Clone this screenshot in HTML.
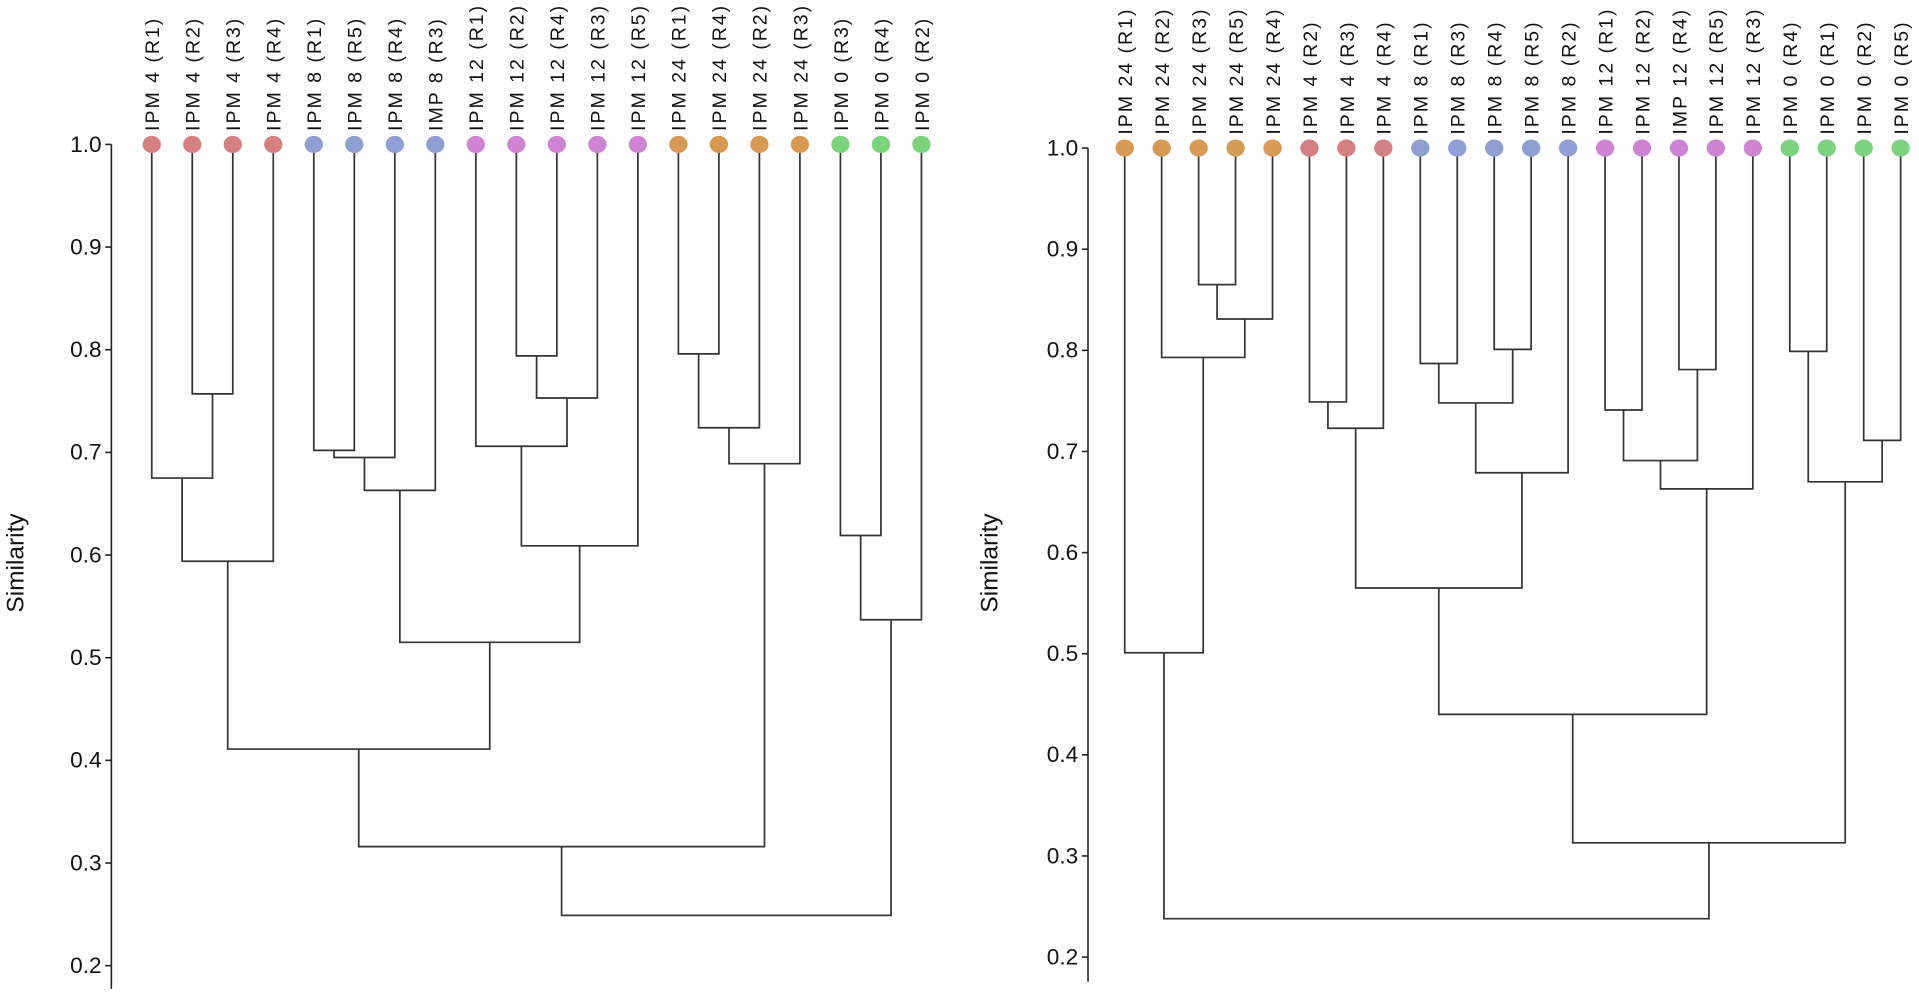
<!DOCTYPE html>
<html><head><meta charset="utf-8"><style>
html,body{margin:0;padding:0;background:#fff;}
svg{display:block;font-family:"Liberation Sans",sans-serif;}
</style></head><body>
<svg id="chart" width="1919" height="1003" viewBox="0 0 1568 819.5" preserveAspectRatio="none" xmlns="http://www.w3.org/2000/svg"></svg>
<script>
// ---- Left dendrogram data ----
const leftLabels = ["IPM 4 (R1)","IPM 4 (R2)","IPM 4 (R3)","IPM 4 (R4)","IPM 8 (R1)","IPM 8 (R5)","IPM 8 (R4)","IMP 8 (R3)","IPM 12 (R1)","IPM 12 (R2)","IPM 12 (R4)","IPM 12 (R3)","IPM 12 (R5)","IPM 24 (R1)","IPM 24 (R4)","IPM 24 (R2)","IPM 24 (R3)","IPM 0 (R3)","IPM 0 (R4)","IPM 0 (R2)"];
const leftGroups = ["4","4","4","4","8","8","8","8","12","12","12","12","12","24","24","24","24","0","0","0"];
const leftPairs = [[1,2],[0,20],[21,3],[4,5],[23,6],[24,7],[9,10],[26,11],[8,27],[28,12],[25,29],[22,30],[13,14],[32,15],[33,16],[31,34],[17,18],[36,19],[35,37]];
const leftHeights = [0.757,0.675,0.594,0.702,0.695,0.663,0.794,0.753,0.706,0.609,0.515,0.411,0.796,0.724,0.689,0.316,0.619,0.537,0.249];
// ---- Right dendrogram data ----
const rightLabels = ["IPM 24 (R1)","IPM 24 (R2)","IPM 24 (R3)","IPM 24 (R5)","IPM 24 (R4)","IPM 4 (R2)","IPM 4 (R3)","IPM 4 (R4)","IPM 8 (R1)","IPM 8 (R3)","IPM 8 (R4)","IPM 8 (R5)","IPM 8 (R2)","IPM 12 (R1)","IPM 12 (R2)","IMP 12 (R4)","IPM 12 (R5)","IPM 12 (R3)","IPM 0 (R4)","IPM 0 (R1)","IPM 0 (R2)","IPM 0 (R5)"];
const rightGroups = ["24","24","24","24","24","4","4","4","8","8","8","8","8","12","12","12","12","12","0","0","0","0"];
const rightPairs = [[2,3],[22,4],[1,23],[0,24],[5,6],[26,7],[8,9],[10,11],[28,29],[30,12],[27,31],[13,14],[15,16],[33,34],[35,17],[32,36],[18,19],[20,21],[38,39],[37,40],[25,41]];
const rightHeights = [0.865,0.831,0.793,0.501,0.749,0.723,0.787,0.801,0.748,0.679,0.565,0.741,0.781,0.691,0.663,0.440,0.799,0.711,0.670,0.313,0.238];
const yTicks = [1.0,0.9,0.8,0.7,0.6,0.5,0.4,0.3,0.2];

const colors = {"4":"#d47f80","8":"#8d9fd3","12":"#cf84d3","24":"#d69a55","0":"#7dd27e"};
const svg = document.getElementById('chart');
const NS = "http://www.w3.org/2000/svg";
function mk(tag, attrs, parent){const e=document.createElementNS(NS,tag);for(const k in attrs)e.setAttribute(k,attrs[k]);(parent||svg).appendChild(e);return e;}

function drawDendro(cfg, labels, groups, pairs, heights, name){
  const g = mk('g',{});
  
  
  const yS = v => cfg.y1 + (1 - v) * (cfg.y02 - cfg.y1) / 0.8;
  const xS = i => cfg.x0 + i * cfg.dx;
  const ax = mk('line',{x1:cfg.ax,x2:cfg.ax,y1:cfg.y1,y2:cfg.yEnd,stroke:'#222','stroke-width':1.3},g);
  
  
  yTicks.forEach(t=>{
    const tk = mk('line',{x1:cfg.ax-5,x2:cfg.ax,y1:yS(t),y2:yS(t),stroke:'#222','stroke-width':1.3},g);
    
    
    const tl = mk('text',{x:cfg.ax-8,y:yS(t)+6,'text-anchor':'end','font-size':18.5,fill:'#111'},g);
    tl.textContent = t.toFixed(1);
    
    
  });
  const tt = mk('text',{x:0,y:0,'text-anchor':'middle','font-size':20,fill:'#111',transform:`translate(${cfg.titleX},${cfg.titleY}) rotate(-90)`},g);
  tt.textContent = 'Similarity';
  
  
  const n = labels.length;
  const nx = [], ny = [];
  for(let i=0;i<n;i++){nx.push(xS(i));ny.push(yS(1));}
  pairs.forEach((p,k)=>{
    const a=p[0], b=p[1], h=yS(heights[k]);
    const path = mk('path',{d:`M${nx[a]},${ny[a]}V${h}H${nx[b]}V${ny[b]}`,fill:'none',stroke:'#333','stroke-width':1.4},g);
    
    
    nx.push((nx[a]+nx[b])/2); ny.push(h);
  });
  labels.forEach((l,i)=>{
    const c = mk('ellipse',{cx:xS(i),cy:yS(1),rx:7.5,ry:7,fill:colors[groups[i]]},g);
    
    
    const t = mk('text',{x:0,y:0,'font-size':16,'letter-spacing':1.6,fill:'#111',transform:`translate(${xS(i)+6},${yS(1)-11}) rotate(-90)`},g);
    t.textContent = l;
    
    
  });
}
drawDendro({ax:91,x0:124,dx:33.1,y1:118,y02:789,yEnd:808,titleX:19,titleY:460}, leftLabels, leftGroups, leftPairs, leftHeights, 'left-dendrogram');
drawDendro({ax:889,x0:919,dx:30.19,y1:121,y02:782,yEnd:802,titleX:815,titleY:460}, rightLabels, rightGroups, rightPairs, rightHeights, 'right-dendrogram');
</script>
</body></html>
